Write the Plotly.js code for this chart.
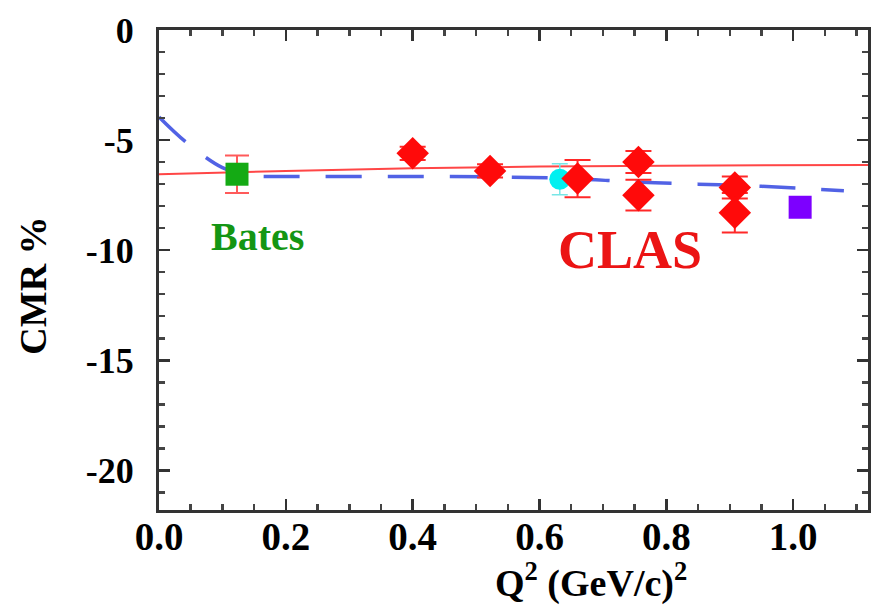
<!DOCTYPE html>
<html>
<head>
<meta charset="utf-8">
<script src="https://cdn.plot.ly/plotly-3.0.1.min.js"></script>
<style>html,body{margin:0;padding:0;background:#fff;}#chart{width:879px;height:609px;}</style>
</head>
<body>
<div id="chart"></div>
<script>
// CLAS data (red diamonds)
const clasQ2 = [0.40, 0.522, 0.66, 0.756, 0.756, 0.908, 0.908];
const clasCMR = [-5.6, -6.4, -6.75, -6.0, -7.5, -7.15, -8.3];
const clasErr = [0.3, 0.3, 0.85, 0.5, 0.7, 0.5, 0.9];
// Bates (green square)
const batesQ2 = [0.123];
const batesCMR = [-6.55];
const batesErr = [0.85];
// other points
const cyanQ2 = [0.632];
const cyanCMR = [-6.78];
const cyanErr = [0.7];
const purpleQ2 = [1.011];
const purpleCMR = [-8.05];
// red solid curve
const redQ2 = [0.0, 0.1, 0.2, 0.4, 0.6, 0.8, 1.0, 1.12];
const redCMR = [-6.55, -6.47, -6.4, -6.28, -6.2, -6.16, -6.14, -6.13];
// blue dashed curve
const blueQ2 = [0.0, 0.045, 0.1, 0.14, 0.2, 0.4, 0.55, 0.65, 0.75, 0.85, 0.95, 1.08];
const blueCMR = [-3.95, -5.15, -6.25, -6.6, -6.65, -6.65, -6.68, -6.75, -6.9, -7.0, -7.1, -7.3];
// axis ticks
const yTicks = [0, -5, -10, -15, -20];
const yTickText = ['0', '-5', '-10', '-15', '-20'];

const FONT = 'Liberation Serif, Times New Roman, serif';

const traces = [
  {x: redQ2, y: redCMR, mode: 'lines', line: {color: 'rgb(255,70,70)', width: 2}},
  {x: blueQ2, y: blueCMR, mode: 'lines', line: {color: 'rgba(50,70,225,0.85)', width: 3.5, dash: '36px,26px', shape: 'spline'}},
  {x: cyanQ2, y: cyanCMR, mode: 'markers', marker: {symbol: 'circle', size: 21, color: 'rgb(0,240,240)'},
   error_y: {type: 'data', array: cyanErr, color: 'rgb(120,230,230)', thickness: 1.5, width: 8}},
  {x: clasQ2, y: clasCMR, mode: 'markers', marker: {symbol: 'diamond', size: 25, color: 'rgb(255,10,10)'},
   error_y: {type: 'data', array: clasErr, color: 'rgb(255,40,40)', thickness: 2, width: 13}},
  {x: batesQ2, y: batesCMR, mode: 'markers', marker: {symbol: 'square', size: 23, color: 'rgb(20,170,20)'},
   error_y: {type: 'data', array: batesErr, color: 'rgb(255,90,90)', thickness: 2, width: 12}},
  {x: purpleQ2, y: purpleCMR, mode: 'markers', marker: {symbol: 'square', size: 23, color: 'rgb(125,0,255)'}}
];

const layout = {
  width: 879, height: 609,
  margin: {l: 159, r: 11, t: 30, b: 99},
  showlegend: false,
  xaxis: {
    range: [0, 1.118], dtick: 0.2, tick0: 0, tickformat: '.1f',
    gridcolor: 'rgba(0,0,0,0)', zerolinecolor: 'rgba(0,0,0,0)',
    showline: true, linecolor: '#333', linewidth: 3,
    mirror: 'allticks', ticks: 'inside', ticklen: 11, tickwidth: 2.5, tickcolor: '#333',
    ticklabelstandoff: -10,
    tickfont: {family: FONT, size: 39, color: '#000', weight: 'bold'},
    minor: {dtick: 0.05, ticks: 'inside', ticklen: 6, tickcolor: '#444'}
  },
  yaxis: {
    range: [-21.8, 0], tickvals: yTicks, ticktext: yTickText,
    gridcolor: 'rgba(0,0,0,0)', zerolinecolor: 'rgba(0,0,0,0)',
    showline: true, linecolor: '#333', linewidth: 3,
    mirror: 'allticks', ticks: 'inside', ticklen: 11, tickwidth: 2.5, tickcolor: '#333',
    ticklabelstandoff: 15,
    tickfont: {family: FONT, size: 36, color: '#000', weight: 'bold'},
    minor: {dtick: 1, ticks: 'inside', ticklen: 6, tickcolor: '#444'}
  },
  annotations: [
    {text: 'Q<sup>2</sup> (GeV/c)<sup>2</sup>', xref: 'paper', yref: 'paper', x: 0.609, y: -0.146,
     xanchor: 'center', yanchor: 'middle', showarrow: false, font: {family: FONT, size: 38, color: '#000', weight: 'bold'}},
    {text: 'CMR %', xref: 'paper', yref: 'paper', x: -0.178, y: 0.467, textangle: -90,
     xanchor: 'center', yanchor: 'middle', showarrow: false, font: {family: FONT, size: 38, color: '#000', weight: 'bold'}},
    {text: 'Bates', xref: 'x', yref: 'y', x: 0.156, y: -9.4, showarrow: false,
     xanchor: 'center', yanchor: 'middle', font: {family: FONT, size: 40, color: 'rgb(20,150,20)', weight: 'bold'}},
    {text: 'CLAS', xref: 'x', yref: 'y', x: 0.743, y: -10.0, showarrow: false,
     xanchor: 'center', yanchor: 'middle', font: {family: FONT, size: 54, color: 'rgb(235,20,20)', weight: 'bold'}}
  ]
};

Plotly.newPlot('chart', traces, layout, {staticPlot: true});
</script>
</body>
</html>
